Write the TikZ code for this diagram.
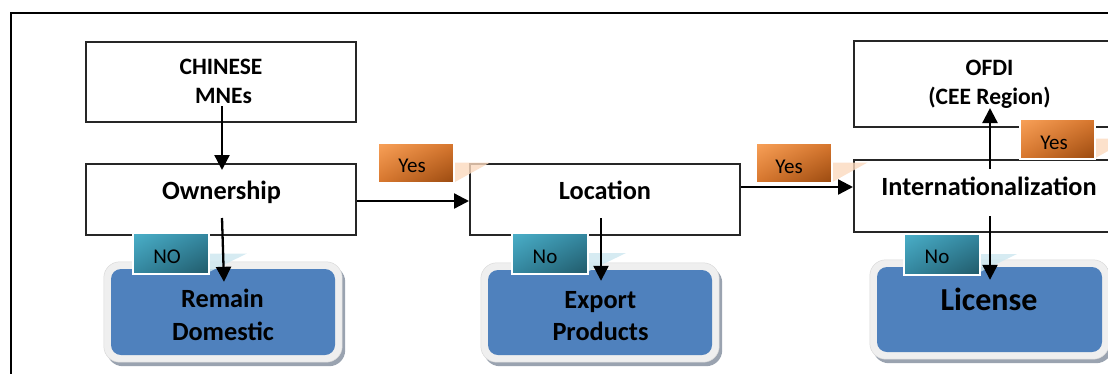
\documentclass[tikz,border=0pt]{standalone}
\usepackage{fontspec}
\setmainfont{Carlito}
\usetikzlibrary{calc,fit,shadows,shadings,backgrounds,arrows.meta}

\definecolor{boxblue}{HTML}{4F81BD}
\definecolor{frmgray}{HTML}{EFEFEF}
\definecolor{frmedge}{HTML}{D9D9D9}
\definecolor{shadowc}{HTML}{9AA3B0}
\definecolor{orL}{HTML}{F9A25A}
\definecolor{orM}{HTML}{D8772E}
\definecolor{orD}{HTML}{9A4A10}
\definecolor{teL}{HTML}{4BB0C9}
\definecolor{teM}{HTML}{3487A0}
\definecolor{teD}{HTML}{215A69}
\definecolor{wedgeO}{HTML}{FBD9BE}
\definecolor{wedgeT}{HTML}{CFE8F0}

\begin{document}
\begin{tikzpicture}[x=1pt,y=-1pt,
  flowbox/.style={draw=black!85, line width=2pt, fill=white, inner sep=0pt},
  bigtxt/.style={anchor=base, inner sep=0pt, font=\fontsize{26.3}{31}\selectfont\bfseries},
  midtxt/.style={anchor=base, inner sep=0pt, font=\fontsize{23.5}{29}\selectfont\bfseries},
  hugetxt/.style={anchor=base, inner sep=0pt, font=\fontsize{32}{38}\selectfont\bfseries},
  lbltxt/.style={anchor=base, inner sep=0pt, font=\fontsize{21}{25}\selectfont},
  bluebox/.style={fill=boxblue, rounded corners=10pt, inner sep=0pt},
  bluefrm/.style={fill=frmgray, draw=frmedge, line width=0.5pt, rounded corners=16pt,
    inner sep=7pt, drop shadow={shadow xshift=3pt, shadow yshift=-4pt, fill=shadowc, opacity=1}},
  yeslbl/.style={draw=white, line width=2pt, minimum width=76pt, minimum height=40pt, inner sep=0pt,
    upper left=orL, upper right=orM, lower left=orM, lower right=orD},
  nolbl/.style={draw=white, line width=2pt, minimum width=76pt, minimum height=41pt, inner sep=0pt,
    upper left=teL, upper right=teM, lower left=teM, lower right=teD},
  arr/.style={line width=2.3pt, -{Triangle[length=15pt,width=15pt]}},
  frame/.style={line width=2.5pt, draw=black}
]
\useasboundingbox (0,0) rectangle (1108,373);
\clip (0,0) rectangle (1108,373);

% outer frame
\draw[frame] (11,13) rectangle (1140,400);

% decision boxes
\node[flowbox, minimum width=270pt, minimum height=80pt] (chin) at (221,82) {};
\node[flowbox, minimum width=270pt, minimum height=71pt] (own) at (221,199.5) {};
\node[flowbox, minimum width=270pt, minimum height=71pt] (loc) at (605,199.5) {};
\node[flowbox, minimum width=272pt, minimum height=72pt] (int) at (990,196) {};
\node[flowbox, minimum width=272pt, minimum height=86pt] (ofdi) at (990,84) {};

% outcome boxes
\node[bluebox, minimum width=224pt, minimum height=86pt] (rd) at (223,312) {};
\node[bluebox, minimum width=224pt, minimum height=85pt] (ex) at (600,312.5) {};
\node[bluebox, minimum width=225pt, minimum height=85pt] (lic) at (989.5,309.5) {};
\begin{scope}[on background layer]
  \node[bluefrm, fit=(rd)] (rdf) {};
  \node[bluefrm, fit=(ex)] (exf) {};
  \node[bluefrm, fit=(lic)] (licf) {};
\end{scope}

% box texts
\node[midtxt] (chinA) at (221,74.3) {CHINESE};
\node[midtxt] (chinB) at (223.5,103.3) {MNEs};
\node[bigtxt] (ownT) at (221.5,199.3) {Ownership};
\node[bigtxt] (locT) at (605,199.3) {Location};
\node[bigtxt] (intT) at (989,195.7) {Internationalization};
\node[midtxt] (ofdiA) at (989.5,75) {OFDI};
\node[midtxt] (ofdiB) at (989.5,104) {(CEE Region)};
\node[bigtxt] (rdA) at (222.5,307.7) {Remain};
\node[bigtxt] (rdB) at (223,340.7) {Domestic};
\node[bigtxt] (exA) at (600.3,308.3) {Export};
\node[bigtxt] (exB) at (600.5,340) {Products};
\node[hugetxt] (licT) at (989,310) {License};

% answer tags (positions only; drawn last)
\coordinate (y1c) at (416,162.5);
\coordinate (y2c) at (793.5,162.5);
\coordinate (y3c) at (1057.5,138.5);
\coordinate (n1c) at (171,253.5);
\coordinate (n2c) at (550,253);
\coordinate (n3c) at (941.5,254);

% pale pointers of the tags
\fill[wedgeO, opacity=0.8] ($(y1c)+(38,0)$) -- ++(36,0) -- ($(y1c)+(38,20)$) -- cycle;
\fill[wedgeO, opacity=0.8] ($(y2c)+(38,0)$) -- ++(36,0) -- ($(y2c)+(38,20)$) -- cycle;
\fill[wedgeO, opacity=0.8] ($(y3c)+(37,0)$) -- ++(36,0) -- ($(y3c)+(37,20)$) -- cycle;
\fill[wedgeT, opacity=0.85] ($(n1c)+(39,0)$) -- ++(37,0) -- ($(n1c)+(39,18)$) -- cycle;
\fill[wedgeT, opacity=0.85] ($(n2c)+(39,0)$) -- ++(37,0) -- ($(n2c)+(39,18)$) -- cycle;
\fill[wedgeT, opacity=0.85] ($(n3c)+(38.5,0)$) -- ++(37,0) -- ($(n3c)+(38.5,18)$) -- cycle;

% connectors
\coordinate (locout) at ([yshift=12.5pt]loc.east);
\draw[arr] ([xshift=1pt,yshift=17pt]chin.south) -- ([xshift=1pt,yshift=-7pt]own.north);
\draw[arr] ([xshift=1pt,yshift=18pt]own.south) -- ([xshift=1pt,yshift=-13pt]rd.north);
\draw[arr] ([yshift=-1.5pt]own.east) -- ([yshift=-1.5pt]loc.west);
\draw[arr] (locout) -- (int.west |- locout);
\draw[arr] ([xshift=-4pt,yshift=18pt]loc.south) -- ([xshift=1pt,yshift=-11pt]ex.north);
\draw[arr] ([yshift=-10pt]int.north) -- ([yshift=20pt]ofdi.south);
\draw[arr] ([yshift=17pt]int.south) -- ([xshift=0.5pt,yshift=-13pt]lic.north);

% answer tags
\node[yeslbl] (y1) at (y1c) {};
\node[yeslbl] (y2) at (y2c) {};
\node[yeslbl, minimum width=75pt] (y3) at (y3c) {};
\node[nolbl] (n1) at (n1c) {};
\node[nolbl] (n2) at (n2c) {};
\node[nolbl] (n3) at (n3c) {};
\node[lbltxt] (y1t) at ($(y1c)+(-4,10.2)$) {Yes};
\node[lbltxt] (y2t) at ($(y2c)+(-4.5,10.8)$) {Yes};
\node[lbltxt] (y3t) at ($(y3c)+(-3.5,10.5)$) {Yes};
\node[lbltxt] (n1t) at ($(n1c)+(-4,9.8)$) {NO};
\node[lbltxt] (n2t) at ($(n2c)+(-5,10.3)$) {No};
\node[lbltxt] (n3t) at ($(n3c)+(-4.5,9.3)$) {No};
\end{tikzpicture}
\end{document}
